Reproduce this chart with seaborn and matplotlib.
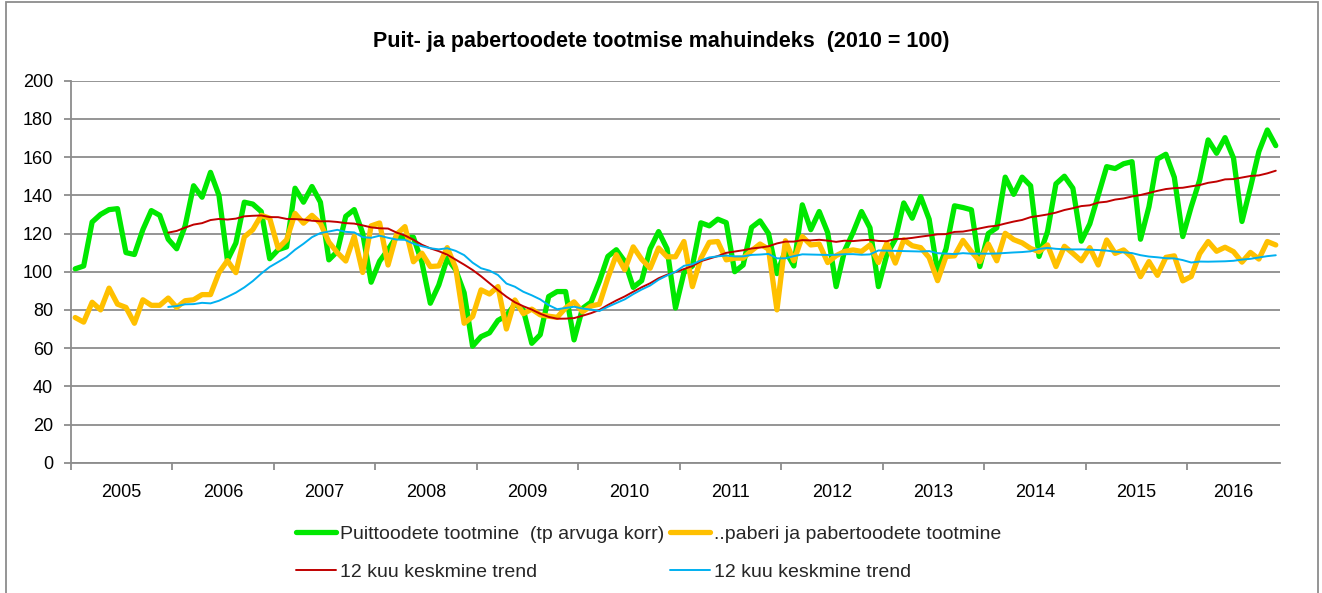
import numpy as np
import pandas as pd
import matplotlib
matplotlib.use("Agg")
import matplotlib.pyplot as plt
import seaborn as sns
from matplotlib.lines import Line2D
from matplotlib.patches import Rectangle

# ---------------- data (monthly, Jan 2005 .. Nov 2016) ----------------
years = [str(y) for y in range(2005, 2017)]

puittooted = [
    101.5, 103, 126, 130, 132.5, 133, 110, 109, 122, 132, 129.5, 117,          # 2005
    112, 124, 145, 139, 152, 140, 106, 115, 136.4, 135.4, 131.5, 106.8,        # 2006
    111.5, 113, 143.7, 136.4, 144.6, 136.4, 106.2, 110.6, 129, 132.5, 120.2, 94.5,  # 2007
    105.5, 111.5, 118.4, 118, 118, 105, 83.5, 93, 107, 101, 89, 61,            # 2008
    66, 68, 74.5, 77, 83, 80, 62.5, 67, 87, 89.6, 89.6, 64.3,                  # 2009
    80.8, 84, 95, 108, 111.5, 105.4, 91.8, 95.3, 112, 121, 112, 81,            # 2010
    99.5, 103, 125.6, 124, 127.5, 125.7, 100, 103.5, 123.2, 126.6, 120, 99,    # 2011
    111, 103, 135, 122, 131.5, 120.5, 92.2, 111, 120.5, 131.5, 123, 92.2,      # 2012
    109, 117, 136, 128, 139.3, 127.5, 100, 112, 134.5, 133.6, 132.4, 102.7,    # 2013
    120, 123, 149.5, 140.5, 149.5, 145, 108, 121, 146, 150, 143.7, 116,        # 2014
    125, 140, 155, 154, 156.5, 157.6, 117, 134, 159, 161.5, 149.4, 118.4,      # 2015
    134, 148, 169, 162, 170.2, 159.5, 126.3, 144, 162.9, 174.2, 166,           # 2016
]

paber = [
    76, 73.6, 84, 80, 91.4, 83, 81.3, 73, 85.3, 82.4, 82.4, 86.2,              # 2005
    81.3, 84.8, 85.3, 88, 88, 99.5, 105.8, 99.5, 118.2, 122, 129.5, 128,       # 2006
    112.3, 116.7, 130.5, 125.4, 129.5, 125.4, 115.5, 110, 105.6, 118.5, 99.6, 124,  # 2007
    125.5, 103.5, 119.5, 123.6, 105.2, 109.7, 102.7, 103, 112.6, 102, 73, 76.5,     # 2008
    90.5, 88.3, 92.2, 70, 85.2, 78, 80.4, 77.4, 76.7, 76.1, 81, 84.2,          # 2009
    79, 82, 83, 96.7, 108.9, 101, 113, 106.5, 101.8, 112.4, 107.8, 107.8,      # 2010
    115.8, 92.2, 107, 115.4, 115.8, 106.2, 107.1, 107.1, 111, 114.5, 111.8, 80,  # 2011
    116.2, 105.7, 118.4, 114, 114.5, 104.8, 108.4, 110.6, 111.4, 110.6, 114, 104.8,  # 2012
    114.9, 104.5, 116.7, 113.6, 112.6, 107.4, 95.3, 108, 108.3, 116.4, 110.5, 105.3,  # 2013
    114.5, 105.7, 120.1, 116.8, 115.1, 112.2, 110.5, 114, 102.7, 113.3, 109.6, 105.7,  # 2014
    112.6, 103.5, 116.6, 109.6, 111.4, 107.4, 97.4, 105.3, 98.1, 107.5, 108.3, 95.2,   # 2015
    97.5, 109.4, 115.8, 110.7, 112.8, 110.5, 105, 110.1, 106.6, 115.8, 114,    # 2016
]

title = "Puit- ja pabertoodete tootmise mahuindeks  (2010 = 100)"
lbl_puit = "Puittoodete tootmine  (tp arvuga korr)"
lbl_paber = "..paberi ja pabertoodete tootmine"
lbl_trend = "12 kuu keskmine trend"

GREEN = "#00E800"
ORANGE = "#FFC000"
RED = "#C00000"
BLUE = "#00B0F0"
GRID = "#8C8C8C"

# ---------------- frame ----------------
df = pd.DataFrame({"kuu": np.arange(len(puittooted)),
                   "puit": puittooted, "paber": paber})
df["puit_trend"] = df["puit"].rolling(12).mean()
df["paber_trend"] = df["paber"].rolling(12).mean()
n = len(df)

sns.set_theme(style="white")
plt.rcParams["font.family"] = ["Liberation Sans", "DejaVu Sans"]

W, H = 1322, 593
fig = plt.figure(figsize=(W / 100, H / 100), dpi=100)
fig.patch.set_facecolor("white")

x0, x1, ytop, ybot = 71, 1280, 80.7, 462.7
ax = fig.add_axes([x0 / W, 1 - ybot / H, (x1 - x0) / W, (ybot - ytop) / H])

sns.lineplot(data=df, x="kuu", y="puit", color=GREEN, lw=3.8, ax=ax, legend=False)
sns.lineplot(data=df, x="kuu", y="paber", color=ORANGE, lw=3.8, ax=ax, legend=False)
sns.lineplot(data=df, x="kuu", y="puit_trend", color=RED, lw=1.4, ax=ax, legend=False)
sns.lineplot(data=df, x="kuu", y="paber_trend", color=BLUE, lw=1.4, ax=ax, legend=False)

ax.set_xlim(-0.5, n - 0.5)
ax.set_ylim(0, 200)
ax.set_yticks(np.arange(0, 201, 20))
ax.set_ylabel("")
ax.set_xlabel("")
ax.yaxis.grid(True, color=GRID, lw=1.3)
ax.xaxis.grid(False)
ax.set_axisbelow(True)

# year boundaries as major ticks, labels centred on minor ticks
bounds = np.arange(-0.5, n - 0.5, 12)
ax.set_xticks(bounds)
ax.set_xticklabels([])
centers = [(b + min(b + 12, n - 0.5)) / 2 for b in bounds]
ax.set_xticks(centers, minor=True)
ax.set_xticklabels(years, minor=True)

ax.tick_params(axis="x", which="major", bottom=True, length=5, width=1.3,
               color=GRID, direction="out")
ax.tick_params(axis="x", which="minor", bottom=True, length=0, pad=15,
               labelsize=13, labelcolor="black")
ax.tick_params(axis="y", left=True, length=5, width=1.3, color=GRID,
               direction="out", pad=8, labelsize=13, labelcolor="black")

for s in ["top", "right"]:
    ax.spines[s].set_visible(False)
for s in ["left", "bottom"]:
    ax.spines[s].set_color(GRID)
    ax.spines[s].set_linewidth(1.3)

fig.text(0.5, 1 - 42 / H, title, ha="center", va="center",
         fontsize=15.5, fontweight="bold", color="black")

handles = [
    Line2D([], [], color=GREEN, lw=3.8),
    Line2D([], [], color=RED, lw=1.4),
    Line2D([], [], color=ORANGE, lw=3.8),
    Line2D([], [], color=BLUE, lw=1.4),
]
labels = [lbl_puit, lbl_trend, lbl_paber, lbl_trend]
fig.legend(handles, labels, ncol=2, loc="upper left",
           bbox_to_anchor=(296 / W, 1 - 525 / H), frameon=False,
           fontsize=14, handlelength=2.05, handletextpad=0.2,
           columnspacing=0.3, labelspacing=1.08, borderpad=0, borderaxespad=0)

fig.patches.append(Rectangle((6 / W, -0.05), (1318 - 6) / W, 1.05 - 2 / H,
                             transform=fig.transFigure, fill=False,
                             edgecolor=GRID, lw=1.3))

fig.savefig("out.png", dpi=100, facecolor="white")
